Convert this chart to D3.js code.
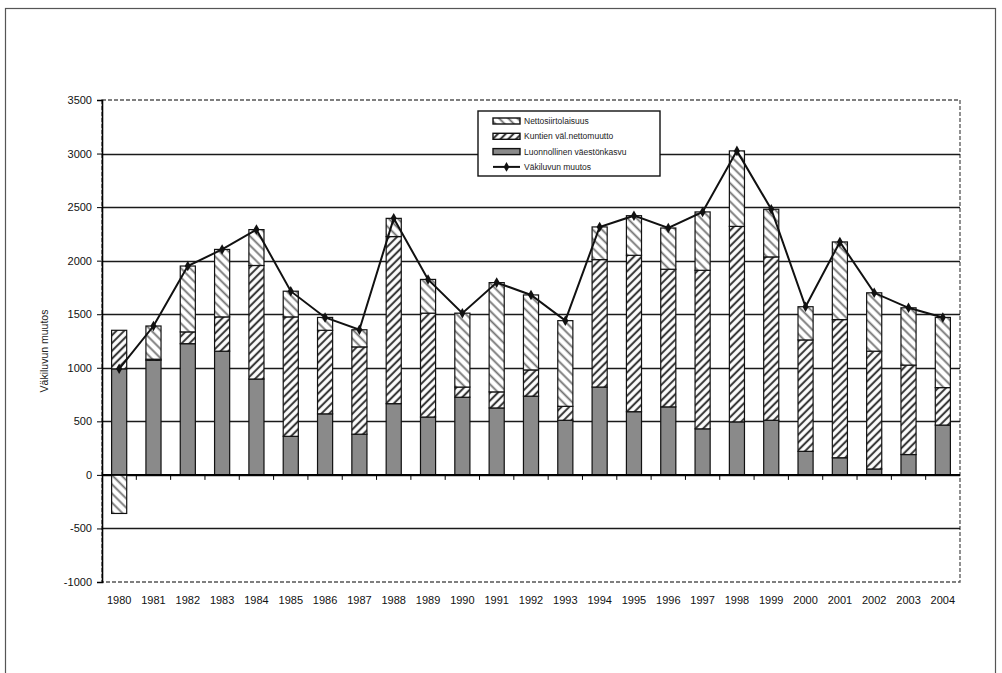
<!DOCTYPE html>
<html>
<head>
<meta charset="utf-8">
<script src="https://cdn.jsdelivr.net/npm/d3@7"></script>
<style>
  html, body { margin: 0; padding: 0; background: #fff; }
  svg { display: block; font-family: "Liberation Sans", Arial, sans-serif; }
</style>
</head>
<body>
<svg id="chart" width="1002" height="673"></svg>
<script>
// ---- data ----
const years = ["1980","1981","1982","1983","1984","1985","1986","1987","1988","1989","1990","1991","1992","1993","1994","1995","1996","1997","1998","1999","2000","2001","2002","2003","2004"];
const natural = [990, 1070, 1225, 1155, 895, 360, 570, 380, 665, 540, 725, 625, 735, 510, 820, 590, 635, 430, 495, 510, 220, 160, 55, 190, 465];
const internal = [360, 10, 110, 320, 1060, 1115, 780, 815, 1560, 970, 95, 150, 245, 130, 1190, 1460, 1285, 1480, 1825, 1525, 1040, 1290, 1100, 835, 350];
const immigration = [-360, 310, 615, 630, 335, 240, 120, 160, 170, 315, 690, 1020, 700, 800, 305, 370, 385, 545, 705, 445, 310, 725, 545, 535, 655];
const totalChange = [990, 1390, 1950, 2105, 2290, 1715, 1470, 1355, 2395, 1825, 1510, 1795, 1680, 1440, 2315, 2420, 2305, 2455, 3025, 2480, 1570, 2175, 1700, 1560, 1470];
const yTicks = [-1000, -500, 0, 500, 1000, 1500, 2000, 2500, 3000, 3500];
const seriesKeys = ["natural", "internal", "immigration"];
const legendLabels = ["Nettosiirtolaisuus", "Kuntien väl.nettomuutto", "Luonnollinen väestönkasvu", "Väkiluvun muutos"];
const yTitle = "Väkiluvun muutos";

// ---- layout ----
const svg = d3.select("#chart");
const plot = { left: 102, right: 960, top: 100, bottom: 582 };

// outer frame
svg.append("rect").attr("x", 5.5).attr("y", 8.5).attr("width", 990).attr("height", 700)
  .attr("fill", "none").attr("stroke", "#555").attr("stroke-width", 1.2);

// patterns
const defs = svg.append("defs");
const pDense = defs.append("pattern").attr("id", "dense").attr("patternUnits", "userSpaceOnUse")
  .attr("width", 5.5).attr("height", 5.5).attr("patternTransform", "rotate(45)");
pDense.append("rect").attr("width", 5.5).attr("height", 5.5).attr("fill", "#fff");
pDense.append("line").attr("x1", 2.75).attr("y1", 0).attr("x2", 2.75).attr("y2", 5.5)
  .attr("stroke", "#3a3a3a").attr("stroke-width", 2.1);
const pSparse = defs.append("pattern").attr("id", "sparse").attr("patternUnits", "userSpaceOnUse")
  .attr("width", 6.5).attr("height", 6.5).attr("patternTransform", "rotate(-45)");
pSparse.append("rect").attr("width", 6.5).attr("height", 6.5).attr("fill", "#fff");
pSparse.append("line").attr("x1", 3.25).attr("y1", 0).attr("x2", 3.25).attr("y2", 6.5)
  .attr("stroke", "#707070").attr("stroke-width", 1.8);

const fills = { natural: "#8a8a8a", internal: "url(#dense)", immigration: "url(#sparse)" };

// scales
const x = d3.scaleBand().domain(years).range([plot.left, plot.right]).paddingInner(0.56).paddingOuter(0.28);
const y = d3.scaleLinear().domain([-1000, 3500]).range([plot.bottom, plot.top]);

// plot area border (dashed, scanned look)
svg.append("rect").attr("x", plot.left).attr("y", plot.top)
  .attr("width", plot.right - plot.left).attr("height", plot.bottom - plot.top)
  .attr("fill", "none").attr("stroke", "#555").attr("stroke-width", 1.3).attr("stroke-dasharray", "4,2");

// gridlines
svg.append("g").selectAll("line").data(yTicks.filter(v => v > -1000 && v < 3500)).join("line")
  .attr("x1", plot.left).attr("x2", plot.right)
  .attr("y1", d => Math.round(y(d)) + 0.5).attr("y2", d => Math.round(y(d)) + 0.5)
  .attr("stroke", "#1a1a1a").attr("stroke-width", 1.4);

// stacked bars
const table = years.map((yr, i) => ({ year: yr, natural: natural[i], internal: internal[i], immigration: immigration[i] }));
const stacked = d3.stack().keys(seriesKeys).offset(d3.stackOffsetDiverging)(table);
svg.append("g").selectAll("g").data(stacked).join("g")
  .attr("fill", d => fills[d.key])
  .selectAll("rect").data(d => d.filter(s => s[1] !== s[0])).join("rect")
  .attr("x", d => x(d.data.year))
  .attr("width", x.bandwidth())
  .attr("y", d => y(Math.max(d[0], d[1])))
  .attr("height", d => Math.abs(y(d[0]) - y(d[1])))
  .attr("stroke", "#111").attr("stroke-width", 1.2);

// zero axis line with ticks
svg.append("line").attr("x1", plot.left).attr("x2", plot.right)
  .attr("y1", y(0)).attr("y2", y(0)).attr("stroke", "#000").attr("stroke-width", 1.6);
const bounds = years.slice(1).map(yr => x(yr) - x.step() * x.paddingInner() / 2);
svg.append("g").selectAll("line").data(bounds).join("line")
  .attr("x1", d => d).attr("x2", d => d).attr("y1", y(0)).attr("y2", y(0) + 5)
  .attr("stroke", "#000").attr("stroke-width", 1);

// x labels
svg.append("g").attr("transform", `translate(0,${plot.bottom + 14})`)
  .call(d3.axisBottom(x).tickSize(0).tickPadding(0))
  .call(g => g.select(".domain").remove())
  .call(g => g.selectAll("text").attr("font-size", 11).attr("fill", "#111")
    .attr("font-family", "'Liberation Sans', Arial, sans-serif").attr("dy", "0.71em"));

// y axis
svg.append("g").attr("transform", `translate(${plot.left},0)`)
  .call(d3.axisLeft(y).tickValues(yTicks).tickSize(5).tickPadding(5).tickFormat(d => String(d)))
  .call(g => g.select(".domain").attr("stroke", "#000").attr("stroke-width", 1.6))
  .call(g => g.selectAll(".tick line").attr("stroke", "#000"))
  .call(g => g.selectAll("text").attr("font-size", 11).attr("fill", "#111")
    .attr("font-family", "'Liberation Sans', Arial, sans-serif"));

// y title
svg.append("text").attr("transform", `translate(48,${(y(1000) + y(1500)) / 2 + 10}) rotate(-90)`)
  .attr("text-anchor", "middle").attr("font-size", 10.5).attr("fill", "#222").text(yTitle);

// total line
const line = d3.line().x((d, i) => x(years[i]) + x.bandwidth() / 2).y(d => y(d));
svg.append("path").datum(totalChange).attr("d", line)
  .attr("fill", "none").attr("stroke", "#111").attr("stroke-width", 2);
svg.append("g").selectAll("path").data(totalChange).join("path")
  .attr("transform", (d, i) => `translate(${x(years[i]) + x.bandwidth() / 2},${y(d)})`)
  .attr("d", d3.symbol(d3.symbolDiamond, 32))
  .attr("fill", "#111");

// legend
const lg = svg.append("g").attr("transform", "translate(478,111)");
lg.append("rect").attr("width", 182).attr("height", 65).attr("fill", "#fff")
  .attr("stroke", "#111").attr("stroke-width", 1.4);
const rows = [
  { label: legendLabels[0], fill: "url(#sparse)" },
  { label: legendLabels[1], fill: "url(#dense)" },
  { label: legendLabels[2], fill: "#8a8a8a" },
  { label: legendLabels[3], line: true }
];
rows.forEach((r, i) => {
  const cy = 10 + i * 15.3;
  if (r.line) {
    lg.append("line").attr("x1", 15).attr("x2", 42).attr("y1", cy).attr("y2", cy)
      .attr("stroke", "#111").attr("stroke-width", 2);
    lg.append("path").attr("transform", `translate(28.5,${cy})`)
      .attr("d", d3.symbol(d3.symbolDiamond, 28)).attr("fill", "#111");
  } else {
    lg.append("rect").attr("x", 15).attr("y", cy - 3).attr("width", 27).attr("height", 6)
      .attr("fill", r.fill).attr("stroke", "#111").attr("stroke-width", 1.4);
  }
  lg.append("text").attr("x", 46).attr("y", cy).attr("dy", "0.35em")
    .attr("font-size", 8.5).attr("fill", "#222").text(r.label);
});
</script>
</body>
</html>
